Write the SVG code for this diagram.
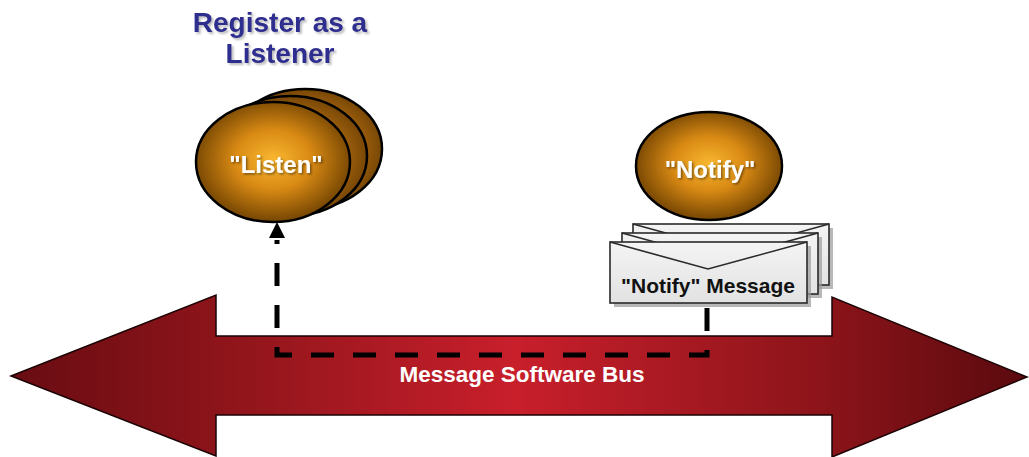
<svg xmlns="http://www.w3.org/2000/svg" width="1029" height="457" viewBox="0 0 1029 457">
  <defs>
    <linearGradient id="busFill" x1="0" y1="0" x2="1029" y2="0" gradientUnits="userSpaceOnUse">
      <stop offset="0" stop-color="#660c12"/>
      <stop offset="0.21" stop-color="#8c141a"/>
      <stop offset="0.5" stop-color="#c81f2b"/>
      <stop offset="0.8" stop-color="#8c141a"/>
      <stop offset="1" stop-color="#5a0a0e"/>
    </linearGradient>
    <radialGradient id="ballFill" cx="0.5" cy="0.48" r="0.55">
      <stop offset="0" stop-color="#f9b830"/>
      <stop offset="0.45" stop-color="#d98a14"/>
      <stop offset="1" stop-color="#6a3e00"/>
    </radialGradient>
    <radialGradient id="ballBack" cx="0.5" cy="0.5" r="0.55">
      <stop offset="0" stop-color="#c07a18"/>
      <stop offset="0.6" stop-color="#a86610"/>
      <stop offset="1" stop-color="#6a3e02"/>
    </radialGradient>
    <linearGradient id="envFill" x1="0" y1="0" x2="0" y2="1">
      <stop offset="0" stop-color="#f4f4f4"/>
      <stop offset="1" stop-color="#e2e2e2"/>
    </linearGradient>
    <filter id="txtShadow" x="-10%" y="-20%" width="130%" height="150%">
      <feDropShadow dx="1.5" dy="1.5" stdDeviation="1" flood-color="#000" flood-opacity="0.45"/>
    </filter>
    <filter id="titleShadow" x="-10%" y="-20%" width="130%" height="150%">
      <feDropShadow dx="2" dy="2" stdDeviation="1.2" flood-color="#555" flood-opacity="0.4"/>
    </filter>
    <style>
      .ball { stroke: #000; stroke-width: 2.5; }
      .env { fill: url(#envFill); stroke: #2a2a2a; stroke-width: 1.6; }
      .envShadow { fill: #9a9a9a; opacity: 0.7; }
      .flap { fill: none; stroke: #2a2a2a; stroke-width: 1.6; }
      .ballLabel { font-family: "Liberation Sans", Arial, sans-serif; font-weight: bold; font-size: 24px; fill: #ffffff; text-anchor: middle; }
      .title { font-family: "Liberation Sans", Arial, sans-serif; font-weight: bold; font-size: 28px; fill: #2f2d8f; text-anchor: middle; }
      .msgLabel { font-family: "Liberation Sans", Arial, sans-serif; font-weight: bold; font-size: 21px; fill: #111; text-anchor: middle; }
      .busLabel { font-family: "Liberation Sans", Arial, sans-serif; font-weight: bold; font-size: 22.5px; fill: #ffffff; text-anchor: middle; }
      .link { fill: none; stroke: #000; stroke-width: 5; stroke-dasharray: 23 19; }
    </style>
  </defs>

  <rect width="1029" height="457" fill="#ffffff"/>

  <!-- double-headed bus arrow -->
  <g id="bus">
    <polygon points="11,376 216,295 216,336 832,336 832,297 1027,377 832,457 832,415 216,415 216,456" fill="url(#busFill)" stroke="#1a0204" stroke-width="1.5"/>
    <text class="busLabel" x="522" y="382">Message Software Bus</text>
  </g>

  <!-- registration path from message to listener -->
  <g id="connectors">
    <path class="link" d="M707,308 V355 H277 V240"/>
    <path d="M269,238 L277,222 L285,238 Z" fill="#000"/>
  </g>

  <!-- stacked listener objects -->
  <g id="listen">
    <text class="title" x="280" y="32" filter="url(#titleShadow)">Register as a</text>
    <text class="title" x="280" y="63" filter="url(#titleShadow)">Listener</text>
    <ellipse class="ball" cx="305" cy="149" rx="77" ry="60" fill="url(#ballBack)"/>
    <ellipse class="ball" cx="290" cy="156" rx="77" ry="60" fill="url(#ballBack)"/>
    <ellipse class="ball" cx="273" cy="162" rx="77" ry="60" fill="url(#ballFill)"/>
    <text class="ballLabel" x="276" y="173" filter="url(#txtShadow)">"Listen"</text>
  </g>

  <!-- notifier object -->
  <g id="notify">
    <ellipse class="ball" cx="709" cy="166" rx="73" ry="54" fill="url(#ballFill)"/>
    <text class="ballLabel" x="710" y="178" filter="url(#txtShadow)">"Notify"</text>
  </g>

  <!-- stacked message envelopes -->
  <g id="message">
    <rect class="envShadow" x="637" y="228" width="196" height="61"/>
    <rect class="env" x="633" y="224" width="196" height="61"/>
    <path class="flap" d="M633,224 L731,251 L829,224"/>
    <rect class="envShadow" x="626" y="237" width="196" height="61"/>
    <rect class="env" x="622" y="233" width="196" height="61"/>
    <path class="flap" d="M622,233 L720,260 L818,233"/>
    <rect class="envShadow" x="614" y="246" width="197" height="61"/>
    <rect class="env" x="610" y="242" width="197" height="61"/>
    <path class="flap" d="M610,242 L708,269 L807,242"/>
    <text class="msgLabel" x="708" y="293">"Notify" Message</text>
  </g>
</svg>
